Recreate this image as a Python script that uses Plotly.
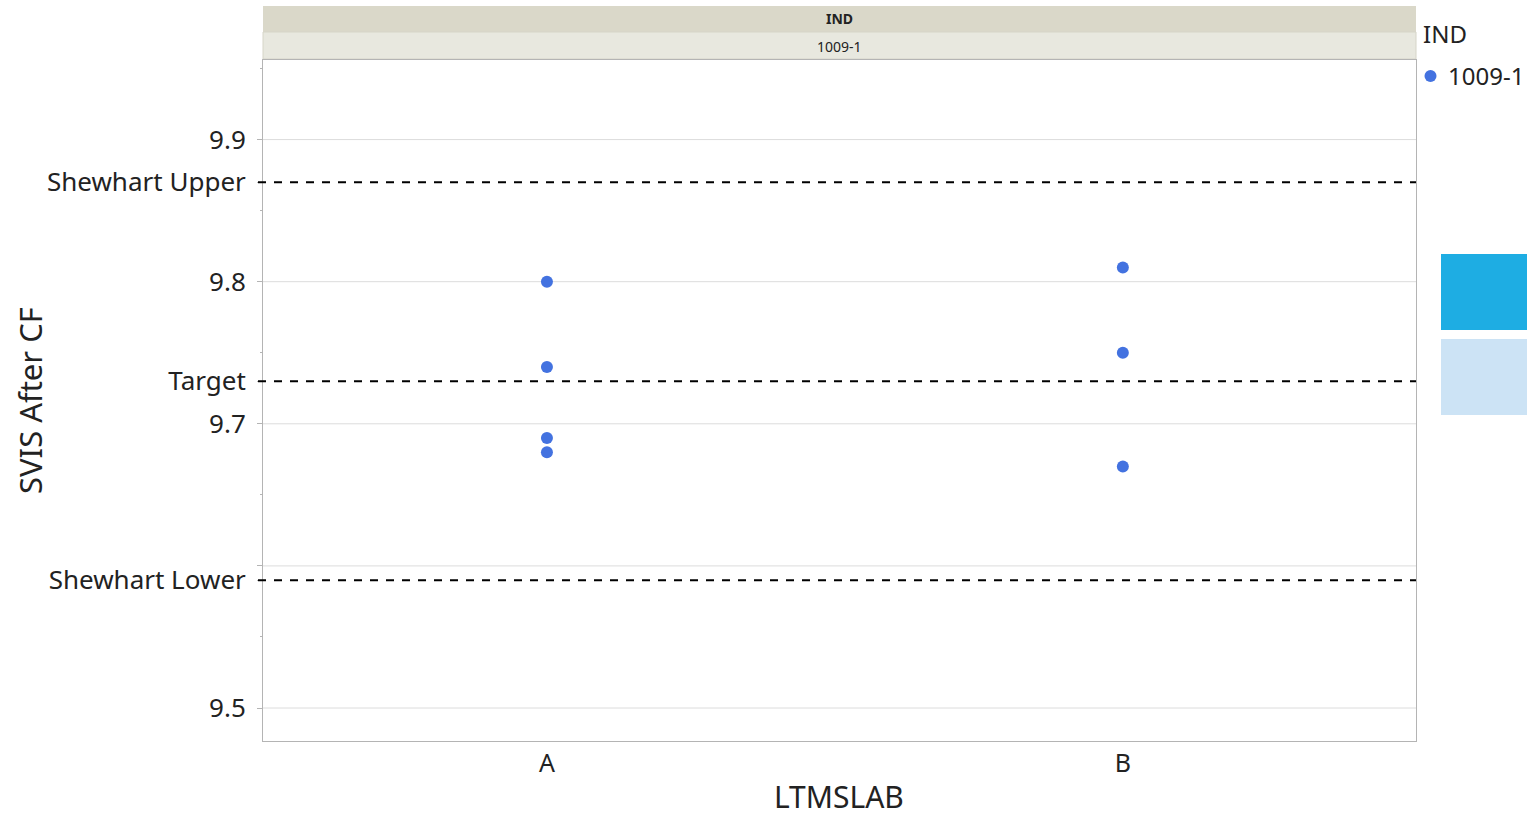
import plotly.graph_objects as go

# Measurements by lab
labs = ["A", "A", "A", "A", "B", "B", "B"]
svis = [9.80, 9.74, 9.69, 9.68, 9.81, 9.75, 9.67]
group_name = "1009-1"
group_color = "#4372E0"

# Control limits
limit_names = ["Shewhart Upper", "Target", "Shewhart Lower"]
limit_values = [9.87, 9.73, 9.59]

# Axis ticks
grid_values = [9.5, 9.6, 9.7, 9.8, 9.9]
grid_labels = ["9.5", "", "9.7", "9.8", "9.9"]
minor_values = [9.55, 9.65, 9.75, 9.85, 9.95]

FONT = "Segoe UI, Noto Sans, sans-serif"
TXT = "#222222"
W, H = 1527, 821
L, R, T, B = 263, 111, 60, 80
PW, PH = W - L - R, H - T - B


def px(xp):
    return (xp - L) / PW


def py(yp):
    return (H - B - yp) / PH


fig = go.Figure()
fig.add_trace(go.Scatter(
    x=labs, y=svis, mode="markers", name=group_name, showlegend=False,
    marker=dict(color=group_color, size=12, line=dict(width=0)),
))

shapes = []
# horizontal gridlines
for v in grid_values:
    shapes.append(dict(type="line", xref="paper", yref="y", x0=0, x1=1, y0=v, y1=v,
                       line=dict(color="#DCDCDC", width=1), layer="below"))
# control limit lines
for v in limit_values:
    shapes.append(dict(type="line", xref="paper", yref="y", x0=px(258), x1=1, y0=v, y1=v,
                       line=dict(color="black", width=2, dash="8px,8px")))
# facet strip header
shapes.append(dict(type="rect", xref="paper", yref="paper", x0=0, x1=1, y0=py(32), y1=py(6),
                   fillcolor="#DAD8C9", line=dict(width=0), layer="below"))
shapes.append(dict(type="rect", xref="paper", yref="paper", x0=0, x1=1, y0=py(59), y1=py(32),
                   fillcolor="#E8E8DF", line=dict(color="#D6D5C8", width=1), layer="below"))
# colour swatches on the right
shapes.append(dict(type="rect", xref="paper", yref="paper", x0=px(1441), x1=px(1530), y0=py(330), y1=py(254),
                   fillcolor="#1EADE3", line=dict(width=0)))
shapes.append(dict(type="rect", xref="paper", yref="paper", x0=px(1441), x1=px(1530), y0=py(415), y1=py(339),
                   fillcolor="#CCE3F5", line=dict(width=0)))
# legend marker
shapes.append(dict(type="circle", xref="paper", yref="paper",
                   x0=px(1424.5), x1=px(1436.5), y0=py(82), y1=py(70),
                   fillcolor=group_color, line=dict(width=0)))

annotations = [
    dict(text="<b>IND</b>", xref="paper", yref="paper", x=0.5, y=py(19), showarrow=False,
         font=dict(family=FONT, size=14, color=TXT), xanchor="center", yanchor="middle"),
    dict(text=group_name, xref="paper", yref="paper", x=0.5, y=py(46), showarrow=False,
         font=dict(family=FONT, size=14, color=TXT), xanchor="center", yanchor="middle"),
    # legend
    dict(text="IND", xref="paper", yref="paper", x=px(1421), y=py(34), showarrow=False,
         font=dict(family=FONT, size=24, color=TXT), xanchor="left", yanchor="middle"),
    dict(text=group_name, xref="paper", yref="paper", x=px(1446), y=py(76), showarrow=False,
         font=dict(family=FONT, size=24, color=TXT), xanchor="left", yanchor="middle"),
    # axis titles
    dict(text="LTMSLAB", xref="paper", yref="paper", x=px(839), y=py(819), showarrow=False,
         font=dict(family=FONT, size=30, color=TXT), xanchor="center", yanchor="bottom"),
    dict(text="SVIS After CF", xref="paper", yref="paper", x=px(30), y=py(401), showarrow=False,
         textangle=-90, font=dict(family=FONT, size=31, color=TXT), xanchor="center", yanchor="middle"),
]

tickvals = grid_values + limit_values
ticktext = grid_labels + limit_names

fig.update_layout(
    width=W, height=H,
    margin=dict(l=L, r=R, t=T, b=B, autoexpand=False),
    paper_bgcolor="white", plot_bgcolor="white",
    font=dict(family=FONT, color=TXT),
    shapes=shapes, annotations=annotations,
    showlegend=False,
    xaxis=dict(
        type="category", categoryorder="array", categoryarray=["A", "B"],
        range=[-0.493, 1.509], showgrid=False, zeroline=False,
        showline=True, linecolor="#B4B4B4", linewidth=1, mirror=True,
        ticks="", tickfont=dict(size=25, family=FONT, color=TXT),
    ),
    yaxis=dict(
        range=[9.4768, 9.956], showgrid=False, zeroline=False,
        showline=True, linecolor="#B4B4B4", linewidth=1, mirror=True,
        tickmode="array", tickvals=tickvals, ticktext=ticktext,
        ticks="outside", ticklen=5, tickcolor="#B4B4B4", ticklabelstandoff=6,
        tickfont=dict(size=26, family=FONT, color=TXT),
        minor=dict(tickmode="array", tickvals=minor_values, ticks="outside", ticklen=2,
                   tickcolor="#B4B4B4", showgrid=False),
    ),
)

fig.write_html("out.html")
